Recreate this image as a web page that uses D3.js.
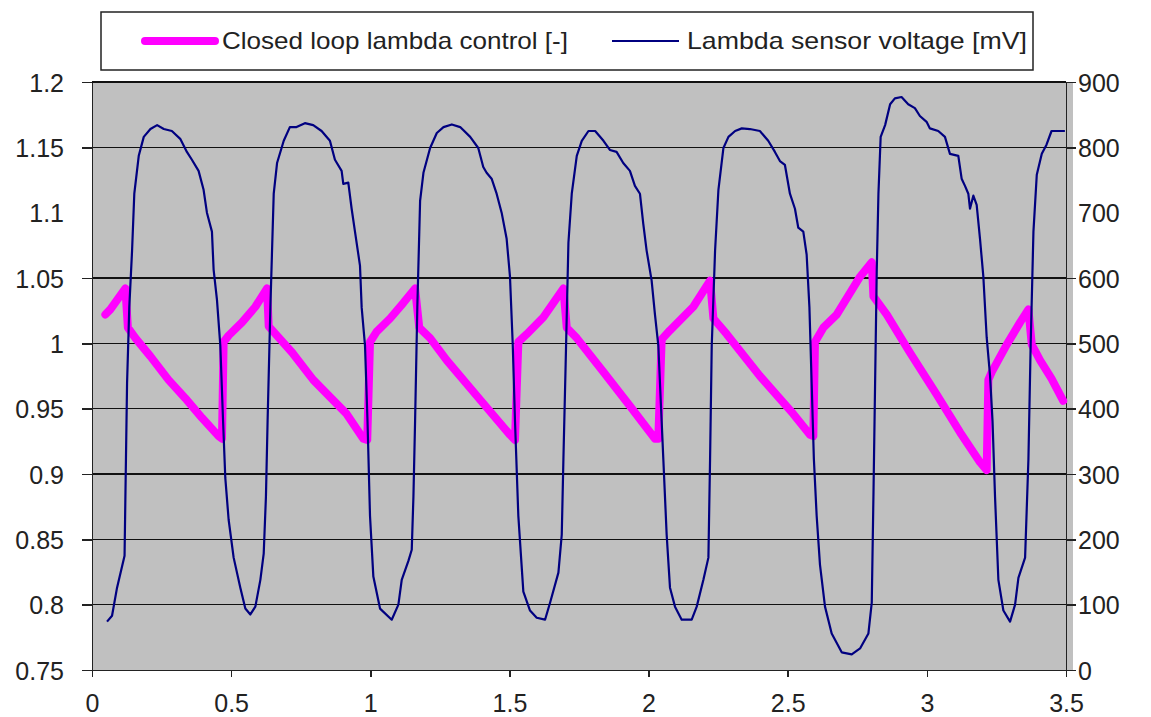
<!DOCTYPE html>
<meta charset="utf-8">
<style>
body{ margin:0; background:#fff; }
text{ font-family:"Liberation Sans", Arial, sans-serif; fill:#222; }
.axis path, .axis line{ stroke:#222; stroke-width:1.5px; shape-rendering:crispEdges; }
.axis text{ font-size:25px; }
.grid line{ stroke:#111; stroke-width:1.3px; shape-rendering:crispEdges; }
.legend text{ font-size:24px; }
</style>
<body>
<script src="https://cdn.jsdelivr.net/npm/d3@7"></script>
<script>
// closed loop lambda control [-]
var lambdaT = [0.048,0.066,0.12,0.129,0.156,0.21,0.275,0.335,0.395,0.455,0.467,
  0.473,0.491,0.539,0.587,0.629,0.635,0.719,0.795,0.915,0.975,0.989,
  0.999,1.023,1.071,1.119,1.161,1.176,1.215,1.275,1.394,1.502,1.520,
  1.532,1.562,1.622,1.694,1.706,1.742,1.838,1.933,2.023,2.035,
  2.047,2.077,2.101,2.161,2.221,2.233,2.281,2.400,2.520,2.580,2.592,
  2.598,2.628,2.676,2.760,2.802,2.808,2.856,2.939,3.035,3.119,3.191,3.215,
  3.221,3.233,3.287,3.335,3.365,3.377,3.407,3.448,3.490];
var lambdaV = [1.022,1.026,1.042,1.012,1.004,0.990,0.972,0.958,0.943,0.929,0.927,
  1.001,1.006,1.016,1.028,1.042,1.013,0.993,0.972,0.946,0.927,0.926,
  1.001,1.009,1.019,1.031,1.042,1.012,1.004,0.987,0.957,0.930,0.926,
  1.001,1.007,1.020,1.042,1.012,1.004,0.978,0.952,0.927,0.927,
  1.003,1.010,1.015,1.028,1.048,1.019,1.007,0.975,0.946,0.930,0.929,
  1.001,1.012,1.022,1.051,1.062,1.036,1.022,0.993,0.961,0.932,0.909,0.903,
  0.972,0.978,0.999,1.016,1.026,0.999,0.987,0.973,0.956];

// lambda sensor voltage [mV]
var sensorT = [0.054,0.072,0.09,0.117,0.12,0.126,0.134,0.144,0.152,0.168,0.186,0.21,0.234,
  0.258,0.287,0.317,0.341,0.359,0.383,0.401,0.413,0.431,0.437,0.449,0.461,0.471,0.479,
  0.491,0.509,0.533,0.551,0.569,0.587,0.605,0.617,0.625,0.631,0.641,0.653,0.665,0.689,
  0.711,0.735,0.765,0.795,0.825,0.855,0.873,0.897,0.903,0.921,0.933,0.945,0.963,0.969,
  0.981,0.99,0.999,1.011,1.035,1.077,1.101,1.113,1.137,1.149,1.155,1.161,1.169,1.179,
  1.191,1.215,1.239,1.263,1.293,1.323,1.359,1.388,1.406,1.418,1.436,1.454,1.472,1.49,
  1.502,1.512,1.52,1.532,1.55,1.574,1.598,1.628,1.646,1.676,1.688,1.694,1.702,1.712,
  1.724,1.742,1.76,1.784,1.808,1.838,1.861,1.885,1.909,1.933,1.951,1.969,1.981,1.993,
  2.011,2.023,2.035,2.047,2.053,2.065,2.077,2.095,2.119,2.155,2.173,2.197,2.215,2.221,
  2.227,2.239,2.251,2.269,2.287,2.311,2.335,2.364,2.4,2.43,2.454,2.472,2.49,2.508,
  2.526,2.538,2.556,2.568,2.578,2.586,2.594,2.604,2.616,2.634,2.658,2.694,2.73,2.76,
  2.79,2.802,2.808,2.814,2.82,2.826,2.834,2.85,2.868,2.885,2.909,2.933,2.957,2.975,
  2.999,3.011,3.041,3.065,3.083,3.113,3.125,3.137,3.149,3.155,3.167,3.179,3.191,3.203,
  3.215,3.227,3.236,3.245,3.257,3.275,3.299,3.317,3.329,3.353,3.365,3.373,3.383,3.395,
  3.413,3.43,3.448,3.472,3.496];
var sensorV = [74,83,126,175,265,439,555,642,729,787,816,828,834,
  828,825,813,793,781,764,735,700,671,613,567,497,381,294,
  230,172,126,94,85,97,138,178,265,381,555,729,776,810,
  831,831,837,834,825,810,781,764,744,746,706,671,619,555,
  497,381,236,143,94,77,100,138,167,184,265,381,555,718,
  761,799,822,831,835,831,816,799,770,761,752,729,700,660,
  602,497,381,236,120,91,80,77,103,149,207,323,468,654,
  729,787,810,825,825,810,796,793,776,764,741,729,683,642,
  596,544,497,381,323,207,126,97,77,77,97,138,172,323,
  497,642,735,799,816,825,829,828,825,810,793,779,773,729,
  706,677,671,636,555,439,323,236,161,97,56,27,24,33,
  56,103,265,439,613,729,816,834,866,875,877,866,860,848,
  839,829,825,816,790,787,752,741,729,706,726,712,660,602,
  509,451,381,265,138,91,74,100,141,172,323,497,671,758,
  790,804,825,825,825];

var xTicks = [0,0.5,1,1.5,2,2.5,3,3.5];
var leftTicks = [0.75,0.8,0.85,0.9,0.95,1,1.05,1.1,1.15,1.2];
var rightTicks = [0,100,200,300,400,500,600,700,800,900];
var seriesNames = ["Closed loop lambda control [-]","Lambda sensor voltage [mV]"];

var W = 1151, H = 717;
var m = {left:92, right:1066, top:82, bottom:670};

var svg = d3.select("body").append("svg").attr("width", W).attr("height", H);

var x = d3.scaleLinear().domain([0,3.5]).range([m.left, m.right]);
var yL = d3.scaleLinear().domain([0.75,1.2]).range([m.bottom, m.top]);
var yR = d3.scaleLinear().domain([0,900]).range([m.bottom, m.top]);

// plot area
svg.append("rect").attr("x", m.left).attr("y", m.top)
   .attr("width", m.right - m.left + 7).attr("height", m.bottom - m.top)
   .attr("fill", "#c0c0c0");

// gridlines (no line at 1.1 in the original)
svg.append("g").attr("class","grid").selectAll("line")
   .data(leftTicks.filter(d => d != 1.1 && d != 0.75))
   .join("line")
   .attr("x1", m.left).attr("x2", m.right)
   .attr("y1", d => yL(d)).attr("y2", d => yL(d));

// axes
var gL = svg.append("g").attr("class","axis")
   .attr("transform","translate(" + m.left + ",0)")
   .call(d3.axisLeft(yL).tickValues(leftTicks).tickSize(10).tickSizeOuter(0).tickPadding(18)
      .tickFormat(d3.format("")));
gL.selectAll(".tick").filter(d => d == 1.1).select("line").remove();

var gR = svg.append("g").attr("class","axis")
   .attr("transform","translate(" + m.right + ",0)")
   .call(d3.axisRight(yR).tickValues(rightTicks).tickSize(10).tickSizeOuter(0).tickPadding(2));
gR.selectAll(".tick").filter(d => d == 700).select("line").remove();

var gB = svg.append("g").attr("class","axis")
   .attr("transform","translate(0," + m.bottom + ")")
   .call(d3.axisBottom(x).tickValues(xTicks).tickSize(7).tickSizeOuter(0).tickPadding(17)
      .tickFormat(d3.format("")));

gL.selectAll(".tick text").attr("dy", "0.36em");
gR.selectAll(".tick text").attr("dy", "0.36em");
gB.selectAll(".tick text").attr("dy", "0.71em");

// series
var lambdaData = lambdaT.map((t,i) => [t, lambdaV[i]]);
var sensorData = sensorT.map((t,i) => [t, sensorV[i]]);
var sensorLine = d3.line().x(d => x(d[0])).y(d => yR(d[1]));

svg.append("path").datum(lambdaData)
   .attr("fill","none").attr("stroke","#ff00ff").attr("stroke-width",8)
   .attr("stroke-linejoin","round").attr("stroke-linecap","round")
   .attr("d", d3.line().x(d => x(d[0])).y(d => yL(d[1])));

svg.append("path").datum(sensorData)
   .attr("fill","none").attr("stroke","#000080").attr("stroke-width",2.2)
   .attr("stroke-linejoin","round")
   .attr("d", sensorLine);

// legend
var lg = svg.append("g").attr("class","legend");
lg.append("rect").attr("x",101).attr("y",12).attr("width",932).attr("height",58)
   .attr("fill","#fff").attr("stroke","#222").attr("stroke-width",1.5);
lg.append("line").attr("x1",145).attr("x2",215).attr("y1",41).attr("y2",41)
   .attr("stroke","#ff00ff").attr("stroke-width",8).attr("stroke-linecap","round");
lg.append("text").attr("x",222).attr("y",49).attr("textLength",346)
   .attr("lengthAdjust","spacingAndGlyphs").text(seriesNames[0]);
lg.append("line").attr("x1",612).attr("x2",679).attr("y1",41).attr("y2",41)
   .attr("stroke","#000080").attr("stroke-width",2.2);
lg.append("text").attr("x",687).attr("y",49).attr("textLength",340)
   .attr("lengthAdjust","spacingAndGlyphs").text(seriesNames[1]);
</script>
</body>
